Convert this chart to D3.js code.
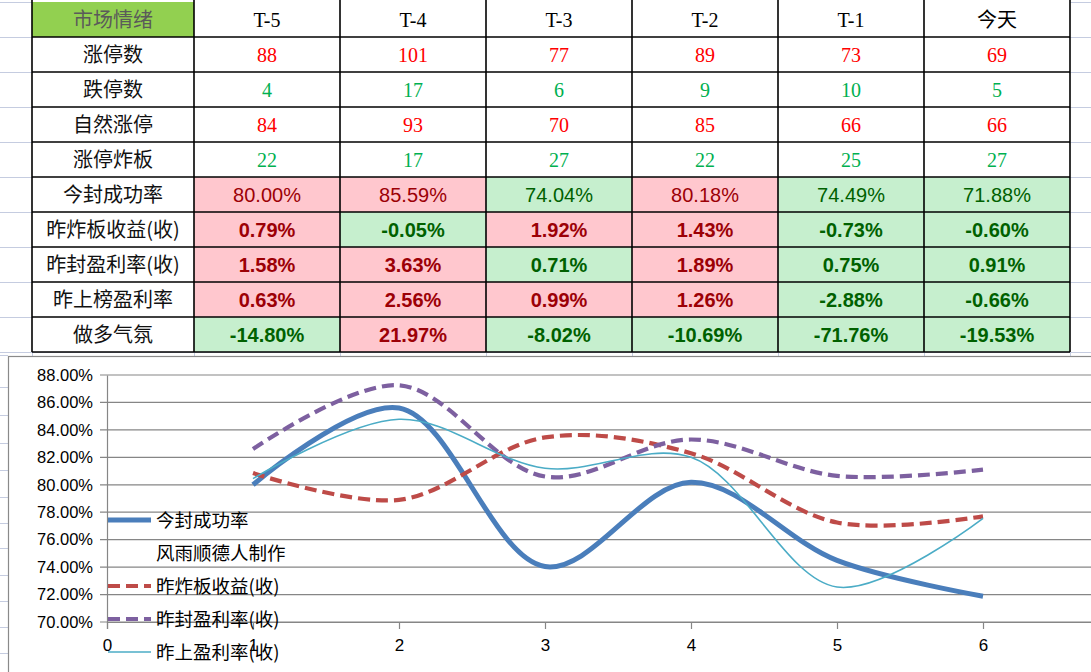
<!DOCTYPE html>
<html><head><meta charset="utf-8">
<script src="https://cdn.jsdelivr.net/npm/d3@7"></script>
<style>body{margin:0;background:#fff;overflow:hidden} svg{display:block}</style>
</head><body><svg id="c" width="1091" height="672"></svg>
<script>
// ---------- data ----------
const headers = ["市场情绪","T-5","T-4","T-3","T-2","T-1","今天"];
const countLabels = ["涨停数","跌停数","自然涨停","涨停炸板"];
const limitUp    = [88,101,77,89,73,69];
const limitDown  = [4,17,6,9,10,5];
const naturalUp  = [84,93,70,85,66,66];
const brokenBoard= [22,17,27,22,25,27];
const countTone  = ["red","green","red","green"];

const pctLabels = ["今封成功率","昨炸板收益(收)","昨封盈利率(收)","昨上榜盈利率","做多气氛"];
const sealRate    = [80.00,85.59,74.04,80.18,74.49,71.88];
const brokeYield  = [0.79,-0.05,1.92,1.43,-0.73,-0.60];
const sealProfit  = [1.58,3.63,0.71,1.89,0.75,0.91];
const listProfit  = [0.63,2.56,0.99,1.26,-2.88,-0.66];
const bullMood    = [-14.80,21.97,-8.02,-10.69,-71.76,-19.53];
const sealTone    = ["up","up","down","up","down","down"];
const brokeTone   = ["up","down","up","up","down","down"];
const sealPTone   = ["up","up","down","up","down","down"];
const listTone    = ["up","up","up","up","down","down"];
const moodTone    = ["down","up","down","down","down","down"];

// chart series
const xValues = [1,2,3,4,5,6];
const seriesSeal  = [80.00,85.59,74.04,80.18,74.49,71.88];
const seriesBroke = [80.85,78.9,83.45,82.3,77.25,77.7];
const seriesSealP = [82.6,87.25,80.6,83.3,80.65,81.1];
const seriesList  = [80.45,84.77,81.2,82.0,72.55,77.55];
const legendNames = ["今封成功率","风雨顺德人制作","昨炸板收益(收)","昨封盈利率(收)","昨上盈利率(收)"];
const yTicks = [70,72,74,76,78,80,82,84,86,88];
const xTicks = [0,1,2,3,4,5,6];

// ---------- drawing ----------
const svg = d3.select("#c");
const W = 1091, H = 672;
const cjk = "'Noto Sans CJK SC','Noto Sans',sans-serif";
const serif = "'Liberation Serif','DejaVu Serif',serif";
const sans = "'Liberation Sans',Arial,sans-serif";

const tableLeft = 32, firstColW = 162, tableRight = 1070;
const rowBand = d3.scaleBand().domain(d3.range(10)).range([2,352]);
const colBand = d3.scaleBand().domain(d3.range(6)).range([tableLeft+firstColW, tableRight]);

// spreadsheet gridlines
const grid = svg.append("g").attr("stroke","#c5cce0").attr("stroke-width",1);
const rowEdges = d3.range(11).map(i => i<10 ? rowBand(i) : rowBand(9)+rowBand.bandwidth());
grid.selectAll("line.h").data(rowEdges).join("line")
  .attr("x1",0).attr("x2",W).attr("y1",d=>Math.round(d)+0.5).attr("y2",d=>Math.round(d)+0.5);
const belowRows = [355,387,415,443,470,497,523,548,575,601,627,653];
grid.selectAll("line.b").data(belowRows).join("line")
  .attr("x1",0).attr("x2",8).attr("y1",d=>d+0.5).attr("y2",d=>d+0.5);
const colEdges = [tableLeft].concat(d3.range(7).map(i => i<6 ? colBand(i) : tableRight));
grid.selectAll("line.v").data(colEdges).join("line")
  .attr("x1",d=>Math.round(d)+0.5).attr("x2",d=>Math.round(d)+0.5).attr("y1",352).attr("y2",358);

// table
const tbl = svg.append("g");
const pinkBg = "#ffc7ce", pinkFg = "#9c0006", greenBg = "#c6efce", greenFg = "#006100";
const fmtPct = v => v.toFixed(2) + "%";

const rows = [];
rows.push({label: headers[0], header:true, values: headers.slice(1)});
[limitUp,limitDown,naturalUp,brokenBoard].forEach((arr,i)=>rows.push({label:countLabels[i], count:true, tone:countTone[i], values:arr}));
[[sealRate,sealTone,false],[brokeYield,brokeTone,true],[sealProfit,sealPTone,true],[listProfit,listTone,true],[bullMood,moodTone,true]]
  .forEach((r,i)=>rows.push({label:pctLabels[i], pct:true, bold:r[2], tones:r[1], values:r[0]}));

rows.forEach((r,ri)=>{
  const y0 = rowBand(ri), h = rowBand.bandwidth(), yc = y0 + h/2;
  tbl.append("rect").attr("x",tableLeft).attr("y",y0).attr("width",firstColW).attr("height",h)
    .attr("fill", r.header ? "#92d050" : "#fff");
  tbl.append("text").attr("x",tableLeft+firstColW/2).attr("y",yc).attr("dy","0.36em")
    .attr("text-anchor","middle").attr("font-family",cjk).attr("font-size",20)
    .attr("fill", r.header ? "#5a5a5a" : "#111").text(r.label);
  r.values.forEach((v,ci)=>{
    const x0 = colBand(ci), w = colBand.bandwidth();
    let bg="#fff", fg="#000", txt=String(v), fam=serif, weight=400;
    if (r.header){ fg="#000"; fam = /[\u4e00-\u9fff]/.test(v) ? cjk : serif; }
    if (r.count){ fg = r.tone==="red" ? "#ff0000" : "#00b050"; }
    if (r.pct){ const up = r.tones[ci]==="up"; bg = up?pinkBg:greenBg; fg = up?pinkFg:greenFg;
      txt = fmtPct(v); fam = sans; weight = r.bold?700:400; }
    tbl.append("rect").attr("x",x0).attr("y",y0).attr("width",w).attr("height",h).attr("fill",bg);
    tbl.append("text").attr("x",x0+w/2).attr("y",yc).attr("dy","0.36em").attr("text-anchor","middle")
      .attr("font-family",fam).attr("font-size",20).attr("font-weight",weight).attr("fill",fg).text(txt);
  });
});
// table borders
const bl = svg.append("g").attr("stroke","#000").attr("stroke-width",1.6);
bl.selectAll("line.h").data(rowEdges.slice(1)).join("line")
  .attr("x1",tableLeft).attr("x2",tableRight).attr("y1",d=>d).attr("y2",d=>d);
bl.selectAll("line.v").data(colEdges).join("line")
  .attr("x1",d=>d).attr("x2",d=>d).attr("y1",0).attr("y2",352);

// ---------- chart ----------
svg.append("rect").attr("x",8.5).attr("y",356.5).attr("width",1200).attr("height",400)
  .attr("fill","#fff").attr("stroke","#8a8a8a").attr("stroke-width",1.2);

const x = d3.scaleLinear().domain([0,7]).range([107,1129]);
const y = d3.scaleLinear().domain([70,88]).range([622,375]);

svg.append("g").selectAll("line").data(yTicks).join("line")
  .attr("x1",100).attr("x2",W).attr("y1",d=>y(d)).attr("y2",d=>y(d))
  .attr("stroke","#868686").attr("stroke-width",1.2);

const yAxis = svg.append("g").attr("transform",`translate(${x(0)},0)`)
  .call(d3.axisLeft(y).tickValues(yTicks).tickSize(0).tickPadding(14).tickFormat(fmtPct));
yAxis.select(".domain").attr("stroke","#868686").attr("stroke-width",1.2);
yAxis.selectAll("text").attr("font-family",sans).attr("font-size",16.5).attr("fill","#000");

const xAxis = svg.append("g").attr("transform",`translate(0,${y(70)})`)
  .call(d3.axisBottom(x).tickValues(xTicks).tickSize(7).tickPadding(10).tickFormat(d=>String(d)));
xAxis.select(".domain").attr("stroke","#868686").attr("stroke-width",1.2);
xAxis.selectAll("line").attr("stroke","#868686").attr("stroke-width",1.2);
xAxis.selectAll("text").attr("font-family",sans).attr("font-size",17).attr("fill","#000");

const line = d3.line().x((d,i)=>x(xValues[i])).y(d=>y(d)).curve(d3.curveCatmullRom.alpha(0.5));
const styles = [
  {data:seriesSeal,  color:"#4a7ebb", width:5,   dash:null},
  {data:[],          color:"none",    width:0,   dash:null},
  {data:seriesBroke, color:"#be4b48", width:4.2, dash:"12,6"},
  {data:seriesSealP, color:"#7d60a0", width:4.2, dash:"12,6"},
  {data:seriesList,  color:"#4bacc6", width:1.6, dash:null}
];
styles.forEach(s=>{
  if (!s.data.length) return;
  svg.append("path").datum(s.data).attr("d",line).attr("fill","none")
    .attr("stroke",s.color).attr("stroke-width",s.width).attr("stroke-dasharray",s.dash)
    .attr("stroke-linecap","butt");
});

const lg = svg.append("g");
const legY = d3.scaleLinear().domain([0,4]).range([520,652]);
legendNames.forEach((n,i)=>{
  const s = styles[i], yy = legY(i);
  if (s.data.length) lg.append("line").attr("x1",108).attr("x2",151).attr("y1",yy).attr("y2",yy)
    .attr("stroke",s.color).attr("stroke-width",s.width).attr("stroke-dasharray",s.dash);
  lg.append("text").attr("x",156).attr("y",yy).attr("dy","0.36em").attr("font-family",cjk)
    .attr("font-size",18.5).attr("fill","#000").text(n);
});
</script></body></html>
